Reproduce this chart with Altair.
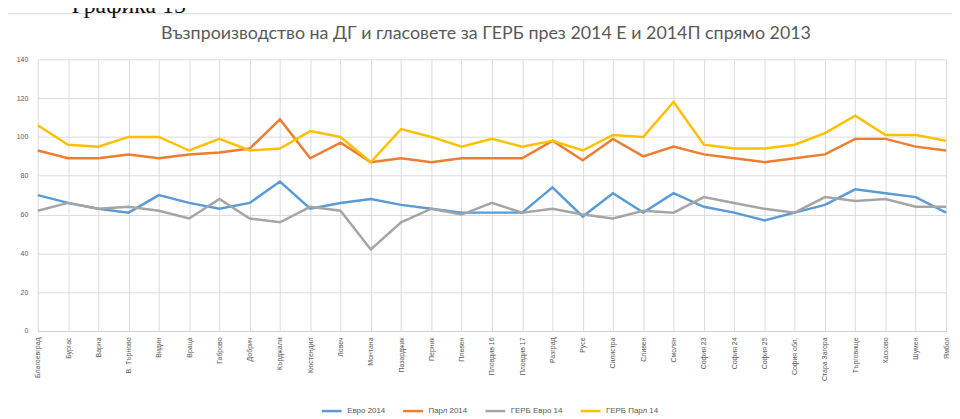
import altair as alt
import pandas as pd

districts = ["Благоевград", "Бургас", "Варна", "В. Търново", "Видин", "Враца", "Габрово",
             "Добрич", "Кърджали", "Кюстендил", "Ловеч", "Монтана", "Пазарджик", "Перник",
             "Плевен", "Пловдив 16", "Пловдив 17", "Разград", "Русе", "Силистра", "Сливен",
             "Смолян", "София 23", "София 24", "София 25", "София обл.", "Стара Загора",
             "Търговище", "Хасково", "Шумен", "Ямбол"]
euro_2014 = [70, 66, 63, 61, 70, 66, 63, 66, 77, 63, 66, 68, 65, 63, 61, 61, 61, 74, 59, 71, 61,
             71, 64, 61, 57, 61, 65, 73, 71, 69, 61]
parl_2014 = [93, 89, 89, 91, 89, 91, 92, 94, 109, 89, 97, 87, 89, 87, 89, 89, 89, 98, 88, 99, 90,
             95, 91, 89, 87, 89, 91, 99, 99, 95, 93]
gerb_euro_14 = [62, 66, 63, 64, 62, 58, 68, 58, 56, 64, 62, 42, 56, 63, 60, 66, 61, 63, 60, 58, 62,
                61, 69, 66, 63, 61, 69, 67, 68, 64, 64]
gerb_parl_14 = [106, 96, 95, 100, 100, 93, 99, 93, 94, 103, 100, 87, 104, 100, 95, 99, 95, 98, 93,
                101, 100, 118, 96, 94, 94, 96, 102, 111, 101, 101, 98]

series_names = ["Евро 2014", "Парл 2014", "ГЕРБ Евро 14", "ГЕРБ Парл 14"]
series_colors = ["#5B9BD5", "#ED7D31", "#A5A5A5", "#FFC000"]
y_ticks = [0, 20, 40, 60, 80, 100, 120, 140]

title_text = "Възпроизводство на ДГ и гласовете за ГЕРБ през 2014 Е и 2014П спрямо 2013"
heading_text = "Графика 15"

rows = []
for name, vals in zip(series_names, [euro_2014, parl_2014, gerb_euro_14, gerb_parl_14]):
    for d, v in zip(districts, vals):
        rows.append({"Район": d, "Серия": name, "Стойност": v})
df = pd.DataFrame(rows)

W, H = 916, 274
label_col = "#595959"

lines = alt.Chart(df).mark_line(strokeWidth=2.5).encode(
    x=alt.X("Район:N", sort=districts, scale=alt.Scale(type="point", padding=0),
            axis=alt.Axis(title=None, labelAngle=-90, labelFontSize=7, labelColor=label_col,
                          labelPadding=6, ticks=False, grid=True, gridColor="#dcdcdc",
                          domainColor="#d0d0d0", labelFont="Liberation Sans")),
    y=alt.Y("Стойност:Q", scale=alt.Scale(domain=[0, 140]),
            axis=alt.Axis(title=None, values=y_ticks, labelFontSize=7, labelColor=label_col,
                          labelPadding=10, ticks=False, domain=False, grid=True,
                          gridColor="#dcdcdc", labelFont="Liberation Sans")),
    color=alt.Color("Серия:N", sort=series_names,
                    scale=alt.Scale(domain=series_names, range=series_colors),
                    legend=alt.Legend(title=None, orient="none", direction="horizontal",
                                      columns=4, legendX=285, legendY=343,
                                      symbolType="stroke", symbolSize=400,
                                      symbolStrokeWidth=2.5, labelFontSize=8,
                                      labelColor=label_col, labelFont="Liberation Sans",
                                      columnPadding=12, labelOffset=4)),
)

deco = pd.DataFrame({"t": [title_text]})
title = alt.Chart(deco).mark_text(fontSize=18, font="Lato", color="#595959",
                                  align="center", baseline="middle").encode(
    x=alt.value(452), y=alt.value(-25), text="t:N")

heading = alt.Chart(pd.DataFrame({"t": [heading_text]})).mark_text(
    fontSize=24, font="Liberation Serif", color="#111111", align="left",
    baseline="alphabetic").encode(x=alt.value(34), y=alt.value(-47), text="t:N")

border = alt.Chart(deco).mark_rect(fillOpacity=0, stroke="#d9d9d9", strokeWidth=1).encode(
    x=alt.value(-31), x2=alt.value(W + 20), y=alt.value(-46), y2=alt.value(H + 200))

chart = alt.layer(border, lines, title, heading).properties(
    width=W, height=H,
    autosize=alt.AutoSizeParams(type="none"),
    padding={"left": 30, "top": 50, "right": 6, "bottom": 86},
).configure_view(stroke=None)

chart.save("out.html", embed_options={"renderer": "svg", "actions": False})
